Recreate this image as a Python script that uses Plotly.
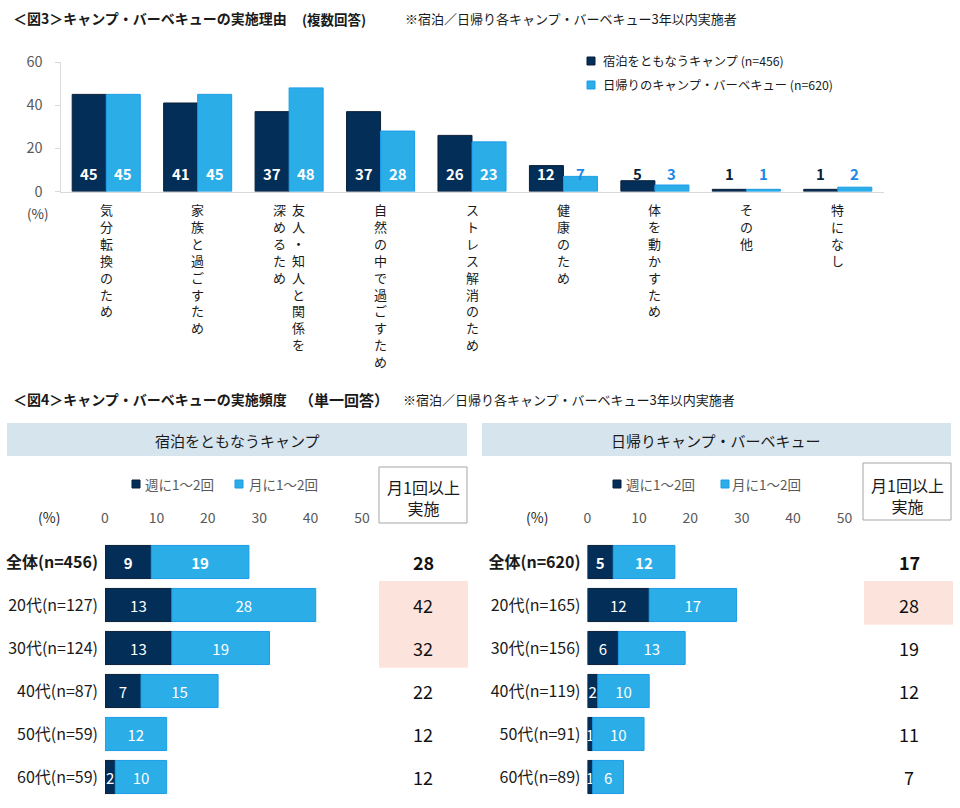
import plotly.graph_objects as go

W, H = 960, 808


def fx(p):
    return p / W


def fy(p):
    return 1 - p / H


FONT = "Noto Sans CJK JP, Noto Sans, sans-serif"
DARK = "#022E58"
LIGHT = "#2BADE8"
DARK_LINE = "#0B1F38"
LIGHT_LINE = "#1C9CE8"
SMALL_DARK_TXT = "#0B1F3A"
SMALL_LIGHT_TXT = "#1E88E5"
GRAY = "#595959"
PINK = "#FCE4DC"
HEAD = "#D6E4EE"

# ---------------- Data: 図3 ----------------
reasons = ["気分転換のため", "家族と過ごすため", "友人・知人と関係を|深めるため",
           "自然の中で過ごすため", "ストレス解消のため", "健康のため",
           "体を動かすため", "その他", "特になし"]
stay_reason = [45, 41, 37, 37, 26, 12, 5, 1, 1]
day_reason = [45, 45, 48, 28, 23, 7, 3, 1, 2]
reason_series = ["宿泊をともなうキャンプ (n=456)", "日帰りのキャンプ・バーベキュー (n=620)"]
reason_ticks = [0, 20, 40, 60]

# ---------------- Data: 図4 ----------------
freq_names = ["週に1～2回", "月に1～2回"]
stay_groups = ["全体(n=456)", "20代(n=127)", "30代(n=124)", "40代(n=87)", "50代(n=59)", "60代(n=59)"]
stay_weekly = [9, 13, 13, 7, 0, 2]
stay_monthly = [19, 28, 19, 15, 12, 10]
stay_total = [28, 42, 32, 22, 12, 12]
stay_highlight = [1, 2]
day_groups = ["全体(n=620)", "20代(n=165)", "30代(n=156)", "40代(n=119)", "50代(n=91)", "60代(n=89)"]
day_weekly = [5, 12, 6, 2, 1, 1]
day_monthly = [12, 17, 13, 10, 10, 6]
day_total = [17, 28, 19, 12, 11, 7]
day_highlight = [1]
freq_ticks = [0, 10, 20, 30, 40, 50]
panel_titles = ["宿泊をともなうキャンプ", "日帰りキャンプ・バーベキュー"]

reason_keys = [r.replace("|", "") for r in reasons]

fig = go.Figure()

# 図3 bars
fig.add_trace(go.Bar(x=reason_keys, y=stay_reason, name=reason_series[0],
                     marker=dict(color=DARK, line=dict(color=DARK_LINE, width=1)),
                     xaxis="x", yaxis="y", showlegend=False))
fig.add_trace(go.Bar(x=reason_keys, y=day_reason, name=reason_series[1],
                     marker=dict(color=LIGHT, line=dict(color=LIGHT_LINE, width=1)),
                     xaxis="x", yaxis="y", showlegend=False))


def bold_if_first(vals):
    out = []
    for i, v in enumerate(vals):
        t = str(v) if v > 0 else ""
        out.append(f"<b>{t}</b>" if (i == 0 and t) else t)
    return out


def label_first_bold(labels):
    return [f"<b>{l}</b>" if i == 0 else l for i, l in enumerate(labels)]


# 図4 bars
for groups, weekly, monthly, xa, ya in [
    (stay_groups, stay_weekly, stay_monthly, "x2", "y2"),
    (day_groups, day_weekly, day_monthly, "x3", "y3"),
]:
    ylabels = label_first_bold(groups)
    fig.add_trace(go.Bar(y=ylabels, x=weekly, orientation="h", name=freq_names[0],
                         marker=dict(color=DARK, line=dict(color=DARK_LINE, width=1)),
                         offsetgroup="g", width=0.77,
                         text=bold_if_first(weekly), textposition="inside",
                         insidetextanchor="middle", constraintext="none", textangle=0,
                         insidetextfont=dict(color="white", size=15, family=FONT),
                         xaxis=xa, yaxis=ya, showlegend=False))
    fig.add_trace(go.Bar(y=ylabels, x=monthly, base=weekly, orientation="h", name=freq_names[1],
                         marker=dict(color=LIGHT, line=dict(color=LIGHT_LINE, width=1)),
                         offsetgroup="g", width=0.77,
                         text=bold_if_first(monthly), textposition="inside",
                         insidetextanchor="middle", constraintext="none", textangle=0,
                         insidetextfont=dict(color="white", size=15, family=FONT),
                         xaxis=xa, yaxis=ya, showlegend=False))

annotations = []
shapes = []

# Titles
annotations += [
    dict(text="<b>＜図3＞キャンプ・バーベキューの実施理由</b>", x=fx(11), y=fy(18), xanchor="left",
         yanchor="middle", font=dict(size=14, color="#1a1a1a")),
    dict(text="<b>(複数回答)</b>", x=fx(300), y=fy(19), xanchor="left",
         yanchor="middle", font=dict(size=13.5, color="#1a1a1a")),
    dict(text="※宿泊／日帰り各キャンプ・バーベキュー3年以内実施者", x=fx(403), y=fy(18), xanchor="left",
         yanchor="middle", font=dict(size=13, color="#1a1a1a")),
    dict(text="<b>＜図4＞キャンプ・バーベキューの実施頻度</b>", x=fx(11), y=fy(399), xanchor="left",
         yanchor="middle", font=dict(size=14, color="#1a1a1a")),
    dict(text="<b>（単一回答）</b>", x=fx(344), y=fy(399), xanchor="center",
         yanchor="middle", font=dict(size=15, color="#1a1a1a")),
    dict(text="※宿泊／日帰り各キャンプ・バーベキュー3年以内実施者", x=fx(401), y=fy(399), xanchor="left",
         yanchor="middle", font=dict(size=13, color="#1a1a1a")),
]

# 図3 legend (manual)
for i, (nm, col, lc) in enumerate([(reason_series[0], DARK, DARK_LINE), (reason_series[1], LIGHT, LIGHT_LINE)]):
    cy = 61 + 24 * i
    shapes.append(dict(type="rect", xref="paper", yref="paper", x0=fx(587), x1=fx(595),
                       y0=fy(cy + 4), y1=fy(cy - 4), fillcolor=col, line=dict(color=lc, width=1)))
    annotations.append(dict(text=nm, x=fx(601), y=fy(cy), xanchor="left", yanchor="middle",
                            font=dict(size=12.3, color="#1a1a1a")))

# 図3 (%) label
annotations.append(dict(text="(%)", x=fx(38), y=fy(213), xanchor="center", yanchor="middle",
                        font=dict(size=13.5, color="#404040")))

# 図3 value labels
for key, sv, dv in zip(reason_keys, stay_reason, day_reason):
    for v, shift, small_col in [(sv, -17, SMALL_DARK_TXT), (dv, 17, SMALL_LIGHT_TXT)]:
        annotations.append(dict(text=f"<b>{v}</b>", x=key, xref="x", y=fy(174), yref="paper",
                                xshift=shift, xanchor="center", yanchor="middle", showarrow=False,
                                font=dict(size=15, color="white" if v >= 10 else small_col)))

# 図3 vertical category labels (one column of stacked characters per text line)
for raw, key in zip(reasons, reason_keys):
    cols = raw.split("|")
    n = len(cols)
    for ci, col in enumerate(cols):
        shift = 0 if n == 1 else (9.5 if ci == 0 else -9.5)
        annotations.append(dict(text="<br>".join(col), x=key, xref="x", xshift=shift,
                                y=fy(199), yref="paper", xanchor="center", yanchor="top",
                                align="center", showarrow=False, borderpad=0,
                                font=dict(size=13, color="#1a1a1a")))

# 図4 panels
panels = [
    dict(hx0=7, hx1=467, title_x=237, leg=[(132, 143), (235, 247)], pct_x=49,
         box=(379, 467, 467, 523), box_text_y=497, total_x=423, totals=stay_total,
         hl=stay_highlight, hl_x=(379, 468), ya="y2", groups=stay_groups),
    dict(hx0=482, hx1=951, title_x=716, leg=[(613, 624), (721, 730)], pct_x=537,
         box=(863, 951, 463, 520), box_text_y=495, total_x=909, totals=day_total,
         hl=day_highlight, hl_x=(864, 953), ya="y3", groups=day_groups),
]
for pi, p in enumerate(panels):
    shapes.append(dict(type="rect", xref="paper", yref="paper", x0=fx(p["hx0"]), x1=fx(p["hx1"]),
                       y0=fy(456), y1=fy(423), fillcolor=HEAD, line=dict(width=0), layer="below"))
    annotations.append(dict(text=panel_titles[pi], x=fx(p["title_x"]), y=fy(440), xanchor="center",
                            yanchor="middle", font=dict(size=15, color="#1a1a1a")))
    for (sq, tx), nm, col, lc in zip(p["leg"], freq_names, [DARK, LIGHT], [DARK_LINE, LIGHT_LINE]):
        shapes.append(dict(type="rect", xref="paper", yref="paper", x0=fx(sq), x1=fx(sq + 8),
                           y0=fy(488), y1=fy(480), fillcolor=col, line=dict(color=lc, width=1)))
        annotations.append(dict(text=nm, x=fx(tx), y=fy(484), xanchor="left", yanchor="middle",
                                font=dict(size=13.5, color=GRAY)))
    annotations.append(dict(text="(%)", x=fx(p["pct_x"]), y=fy(517), xanchor="center", yanchor="middle",
                            font=dict(size=14, color="#262626")))
    bx0, bx1, by0, by1 = p["box"]
    shapes.append(dict(type="rect", xref="paper", yref="paper", x0=fx(bx0), x1=fx(bx1),
                       y0=fy(by1), y1=fy(by0), fillcolor="white", line=dict(color="#A6A6A6", width=1)))
    annotations.append(dict(text="月1回以上<br>実施", x=fx((bx0 + bx1) / 2), y=fy(p["box_text_y"]),
                            xanchor="center", yanchor="middle",
                            font=dict(size=16, color="#1a1a1a")))
    hl = p["hl"]
    shapes.append(dict(type="rect", xref="paper", yref=p["ya"], x0=fx(p["hl_x"][0]), x1=fx(p["hl_x"][1]),
                       y0=min(hl) - 0.56, y1=max(hl) + 0.46, fillcolor=PINK, line=dict(width=0),
                       layer="below"))
    ylabels = label_first_bold(p["groups"])
    for i, (lab, tot) in enumerate(zip(ylabels, p["totals"])):
        annotations.append(dict(text=f"<b>{tot}</b>" if i == 0 else str(tot), x=fx(p["total_x"]),
                                xref="paper", y=lab, yref=p["ya"], xanchor="center",
                                yanchor="middle", showarrow=False,
                                font=dict(size=18, color="#111111")))

for a in annotations:
    a.setdefault("xref", "paper")
    a.setdefault("yref", "paper")
    a.setdefault("showarrow", False)

axis_common = dict(showgrid=False, zeroline=False, fixedrange=True, automargin=False)

fig.update_layout(
    template="none",
    width=W, height=H, autosize=False,
    margin=dict(l=0, r=0, t=0, b=0, pad=0),
    paper_bgcolor="white", plot_bgcolor="rgba(0,0,0,0)",
    font=dict(family=FONT, color="#1a1a1a"),
    barmode="group", bargap=0.256, bargroupgap=0,
    showlegend=False,
    xaxis=dict(domain=[fx(60.5), fx(883.5)], anchor="y", type="category",
               categoryarray=reason_keys, categoryorder="array",
               showticklabels=False, ticks="", showline=True, linecolor="#D9D9D9",
               linewidth=1, **axis_common),
    yaxis=dict(domain=[fy(191.5), fy(62)], anchor="x", range=[0, 60], tickvals=reason_ticks,
               showline=True, linecolor="#D9D9D9", ticks="outside", ticklen=5,
               tickcolor="#D9D9D9", tickfont=dict(size=14.5, color=GRAY),
               ticklabelstandoff=9, **axis_common),
    xaxis2=dict(domain=[fx(105), fx(362)], anchor="y2", range=[0, 50], tickvals=freq_ticks,
                side="top", ticks="", showline=False, tickfont=dict(size=14, color=GRAY),
                ticklabelstandoff=14, **axis_common),
    yaxis2=dict(domain=[fy(798.5), fy(540.5)], anchor="x2", type="category",
                categoryarray=label_first_bold(stay_groups), categoryorder="array",
                autorange="reversed", ticks="", showline=False,
                tickfont=dict(size=16, color="#1a1a1a"), ticklabelstandoff=6, **axis_common),
    xaxis3=dict(domain=[fx(587.5), fx(844.5)], anchor="y3", range=[0, 50], tickvals=freq_ticks,
                side="top", ticks="", showline=False, tickfont=dict(size=14, color=GRAY),
                ticklabelstandoff=14, **axis_common),
    yaxis3=dict(domain=[fy(798.5), fy(540.5)], anchor="x3", type="category",
                categoryarray=label_first_bold(day_groups), categoryorder="array",
                autorange="reversed", ticks="", showline=False,
                tickfont=dict(size=16, color="#1a1a1a"), ticklabelstandoff=6, **axis_common),
    annotations=annotations,
    shapes=shapes,
)

fig.write_html("out.html", config={"displayModeBar": False},
               post_script="document.body.style.margin='0px';")
